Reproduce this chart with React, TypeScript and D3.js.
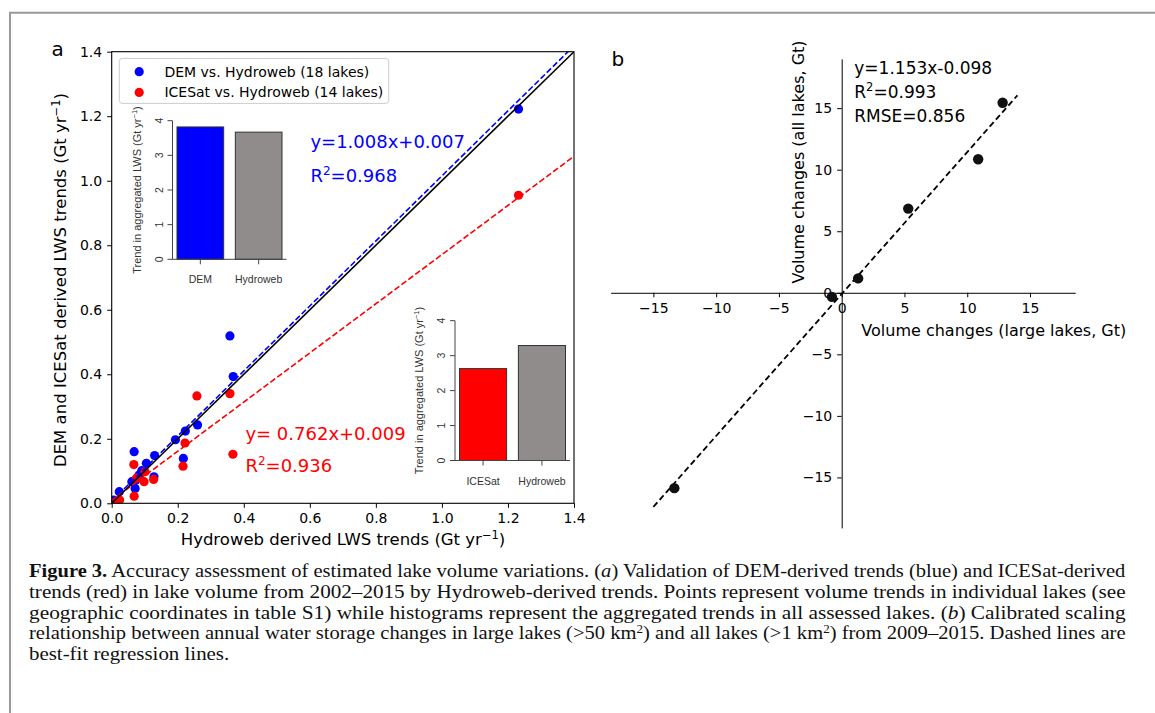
import { useEffect, useRef } from 'react';
import * as d3 from 'd3';

// panel a: trends of single lakes (Gt/yr), Hydroweb on the x axis
const demHydroweb = [1.232, 0.358, 0.368, 0.26, 0.223, 0.193, 0.217, 0.068, 0.13, 0.105, 0.128, 0.091, 0.061, 0.073, 0.071, 0.023, 0.083, 0.006];
const demTrend = [1.222, 0.519, 0.393, 0.243, 0.224, 0.197, 0.139, 0.16, 0.148, 0.124, 0.082, 0.101, 0.067, 0.072, 0.046, 0.036, 0.088, 0.01];
const iceHydroweb = [1.232, 0.258, 0.358, 0.367, 0.222, 0.216, 0.067, 0.068, 0.101, 0.127, 0.098, 0.075, 0.024, 0.012];
const iceTrend = [0.955, 0.333, 0.34, 0.152, 0.187, 0.115, 0.12, 0.022, 0.098, 0.074, 0.067, 0.078, 0.01, 0.004];
const fitDem = [1.008, 0.007];
const fitIce = [0.762, 0.009];
const ticksA = [0, 0.2, 0.4, 0.6, 0.8, 1.0, 1.2, 1.4];

// inset histograms (aggregated trends)
const topCats = ['DEM', 'Hydroweb'];
const topVals = [3.82, 3.67];
const bottomCats = ['ICESat', 'Hydroweb'];
const bottomVals = [2.63, 3.29];

// panel b: volume changes (Gt)
const volLarge = [12.82, 10.87, 5.3, 1.31, -0.78, -13.33];
const volAll = [15.44, 10.85, 6.84, 1.17, -0.33, -15.87];
const fitB = [1.153, -0.098];
const fitRangeB = [-15, 14];
const ticksB = [-15, -10, -5, 0, 5, 10, 15];

const FONT = '"DejaVu Sans", sans-serif';
const RFONT = '"Liberation Sans", Arial, sans-serif';
const SERIF = '"Liberation Serif", "Times New Roman", serif';
const BLUE = '#0000ff';
const RED = '#ff0000';
const GREY = '#918c8c';
const CAP_X = 29;
const CAP_W = 1097;

const xA = d3.scaleLinear().domain([0, 1.4]).range([111.7, 574]);
const yA = d3.scaleLinear().domain([0, 1.4]).range([503.3, 51.7]);
const xB = d3.scaleLinear().domain([-18.4, 18.6]).range([610.7, 1075.2]);
const yB = d3.scaleLinear().domain([-19.1, 19.0]).range([527.9, 58.9]);

function BarInset({ cats, vals, colors, x0, x1, y0, y1 }) {
  const x = d3.scaleBand().domain(cats).range([x0, x1]).paddingInner(0.2).paddingOuter(0);
  const y = d3.scaleLinear().domain([0, 4]).range([y0, y1]);
  const ax = x0 - 4.5;
  return (
    <g>
      {cats.map((c, i) => (
        <rect key={c} x={x(c)} y={y(vals[i])} width={x.bandwidth()} height={y(0) - y(vals[i])}
          fill={colors[i]} stroke="#333" strokeWidth={1} />
      ))}
      <line x1={ax} x2={ax} y1={y(0)} y2={y(4)} stroke="#444" />
      <line x1={ax} x2={x1 + 4.5} y1={y(0)} y2={y(0)} stroke="#444" />
      {y.ticks(4).map((t) => (
        <g key={t}>
          <line x1={ax - 5} x2={ax} y1={y(t)} y2={y(t)} stroke="#444" />
          <text transform={`translate(${ax - 10},${y(t)}) rotate(-90)`} textAnchor="middle"
            fontFamily={RFONT} fontSize={10.5} fill="#333">{t}</text>
        </g>
      ))}
      {cats.map((c) => {
        const cx = x(c) + x.bandwidth() / 2;
        return (
          <g key={c}>
            <line x1={cx} x2={cx} y1={y(0)} y2={y(0) + 5} stroke="#444" />
            <text x={cx} y={y(0) + 24} textAnchor="middle" fontFamily={RFONT} fontSize={10.5} fill="#333">{c}</text>
          </g>
        );
      })}
      <text transform={`translate(${ax - 32},${(y(0) + y(4)) / 2}) rotate(-90)`} textAnchor="middle"
        fontFamily={RFONT} fontSize={11} fill="#333">
        Trend in aggregated LWS (Gt yr<tspan dy={-4} fontSize={7.5}>−1</tspan><tspan dy={4}>)</tspan>
      </text>
    </g>
  );
}

const captionLines = [
  [['b', 'Figure 3.'], ['', ' Accuracy assessment of estimated lake volume variations. ('], ['i', 'a'], ['', ') Validation of DEM-derived trends (blue) and ICESat-derived']],
  [['', 'trends (red) in lake volume from 2002–2015 by Hydroweb-derived trends. Points represent volume trends in individual lakes (see']],
  [['', 'geographic coordinates in table S1) while histograms represent the aggregated trends in all assessed lakes. ('], ['i', 'b'], ['', ') Calibrated scaling']],
  [['', 'relationship between annual water storage changes in large lakes (>50 km'], ['s', '2'], ['', ') and all lakes (>1 km'], ['s', '2'], ['', ') from 2009–2015. Dashed lines are']],
  [['', 'best-fit regression lines.']],
];

export default function App() {
  const axAx = useRef(null);
  const axAy = useRef(null);
  const axBx = useRef(null);
  const axBy = useRef(null);
  const capRef = useRef(null);

  useEffect(() => {
    const style = (g) => {
      g.attr('font-family', null).attr('font-size', null);
      g.selectAll('text').attr('font-family', FONT).attr('font-size', 14).attr('fill', '#000');
      g.selectAll('line').attr('stroke', '#000');
      g.select('.domain').attr('stroke', '#000');
    };
    const fmt = d3.format('.1f');
    const gx = d3.select(axAx.current)
      .call(d3.axisBottom(xA).tickValues(ticksA).tickFormat(fmt).tickSize(4.5).tickPadding(5).tickSizeOuter(0));
    gx.select('.domain').remove();
    style(gx);
    const gy = d3.select(axAy.current)
      .call(d3.axisLeft(yA).tickValues(ticksA).tickFormat(fmt).tickSize(4.5).tickPadding(5).tickSizeOuter(0));
    gy.select('.domain').remove();
    style(gy);

    const bx = d3.select(axBx.current)
      .call(d3.axisBottom(xB).tickValues(ticksB).tickFormat(d3.format('d')).tickSize(4.5).tickPadding(6).tickSizeOuter(0));
    style(bx);
    const by = d3.select(axBy.current)
      .call(d3.axisLeft(yB).tickValues(ticksB).tickFormat(d3.format('d')).tickSize(4.5).tickPadding(5).tickSizeOuter(0));
    style(by);

    // justify the caption lines by a horizontal scale of each line
    const lines = d3.select(capRef.current).selectAll('text').nodes();
    const factors = [];
    lines.forEach((node, i) => {
      const y = +node.getAttribute('data-y');
      let sx;
      if (i < lines.length - 1) {
        sx = CAP_W / node.getComputedTextLength();
        factors.push(sx);
      } else {
        sx = d3.mean(factors);
      }
      node.setAttribute('transform', `translate(${CAP_X},${y}) scale(${sx},1)`);
    });
  }, []);

  const lineA = d3.line().x((d) => xA(d[0])).y((d) => yA(d[1]));
  const fitLine = (f) => lineA([0, 1.4].map((v) => [v, f[0] * v + f[1]]));
  const lineB = d3.line().x((d) => xB(d[0])).y((d) => yB(d[1]));

  return (
    <svg width={1155} height={713} style={{ position: 'absolute', left: 0, top: 0, background: '#fff', display: 'block' }}>
      <defs>
        <clipPath id="clipA">
          <rect x={xA(0)} y={yA(1.4)} width={xA(1.4) - xA(0)} height={yA(0) - yA(1.4)} />
        </clipPath>
      </defs>
      {/* frame */}
      <path d="M10,713 V12.7 H1155" fill="none" stroke="#999" strokeWidth={2} />

      {/* ---------- panel a ---------- */}
      <text x={51.5} y={56} fontFamily={FONT} fontSize={20}>a</text>
      <g clipPath="url(#clipA)">
        {demHydroweb.map((v, i) => (
          <circle key={'d' + i} cx={xA(v)} cy={yA(demTrend[i])} r={4.6} fill={BLUE} />
        ))}
        {iceHydroweb.map((v, i) => (
          <circle key={'c' + i} cx={xA(v)} cy={yA(iceTrend[i])} r={4.6} fill={RED} />
        ))}
        <path d={fitLine(fitDem)} fill="none" stroke={BLUE} strokeWidth={1.6} strokeDasharray="6 2.6" />
        <path d={fitLine(fitIce)} fill="none" stroke={RED} strokeWidth={1.6} strokeDasharray="6 2.6" />
        <path d={lineA([[0, 0], [1.4, 1.4]])} fill="none" stroke="#000" strokeWidth={1.6} />
      </g>
      <rect x={xA(0)} y={yA(1.4)} width={xA(1.4) - xA(0)} height={yA(0) - yA(1.4)} fill="none" stroke="#000" strokeWidth={1.1} />
      <g ref={axAx} transform={`translate(0,${yA(0)})`} />
      <g ref={axAy} transform={`translate(${xA(0)},0)`} />

      <text x={343} y={545} textAnchor="middle" fontFamily={FONT} fontSize={16.5}>
        Hydroweb derived LWS trends (Gt yr<tspan dy={-6} fontSize={11.5}>−1</tspan><tspan dy={6}>)</tspan>
      </text>
      <text transform="translate(66,280) rotate(-90)" textAnchor="middle" fontFamily={FONT} fontSize={16.5}>
        DEM and ICESat derived LWS trends (Gt yr<tspan dy={-6} fontSize={11.5}>−1</tspan><tspan dy={6}>)</tspan>
      </text>

      {/* legend */}
      <rect x={119.3} y={58.4} width={269.4} height={45} rx={3} fill="#fff" fillOpacity={0.8} stroke="#ccc" />
      <circle cx={139.2} cy={71.7} r={4.6} fill={BLUE} />
      <circle cx={139.2} cy={92.4} r={4.6} fill={RED} />
      <text x={164.4} y={76.7} fontFamily={FONT} fontSize={14}>DEM vs. Hydroweb (18 lakes)</text>
      <text x={164.4} y={97.4} fontFamily={FONT} fontSize={14}>ICESat vs. Hydroweb (14 lakes)</text>

      {/* regression annotations */}
      <g fontFamily={FONT} fontSize={18}>
        <text x={310.4} y={148} fill={BLUE}>y=1.008x+0.007</text>
        <text x={310.4} y={181.7} fill={BLUE}>R<tspan dy={-7} fontSize={12}>2</tspan><tspan dy={7}>=0.968</tspan></text>
        <text x={245.4} y={440} fill={RED}>y= 0.762x+0.009</text>
        <text x={245.4} y={471.7} fill={RED}>R<tspan dy={-7} fontSize={12}>2</tspan><tspan dy={7}>=0.936</tspan></text>
      </g>

      <BarInset cats={topCats} vals={topVals} colors={[BLUE, GREY]} x0={177} x1={282} y0={259.3} y1={120.7} />
      <BarInset cats={bottomCats} vals={bottomVals} colors={[RED, GREY]} x0={459.5} x1={565.5} y0={460.5} y1={320.7} />

      {/* ---------- panel b ---------- */}
      <text x={611.5} y={66} fontFamily={FONT} fontSize={20}>b</text>
      <g ref={axBx} transform={`translate(0,${yB(0)})`} />
      <g ref={axBy} transform={`translate(${xB(0)},0)`} />
      <path d={lineB(fitRangeB.map((v) => [v, fitB[0] * v + fitB[1]]))} fill="none" stroke="#000" strokeWidth={1.8} strokeDasharray="6 3.4" />
      {volLarge.map((v, i) => (
        <circle key={'b' + i} cx={xB(v)} cy={yB(volAll[i])} r={5.2} fill="#111" />
      ))}
      <g fontFamily={FONT} fontSize={17}>
        <text x={854.3} y={73.5}>y=1.153x-0.098</text>
        <text x={854.3} y={97.5}>R<tspan dy={-7} fontSize={11.5}>2</tspan><tspan dy={7}>=0.993</tspan></text>
        <text x={854.3} y={122}>RMSE=0.856</text>
      </g>
      <text x={861.3} y={336} fontFamily={FONT} fontSize={16}>Volume changes (large lakes, Gt)</text>
      <text transform="translate(804,162) rotate(-90)" textAnchor="middle" fontFamily={FONT} fontSize={16}>
        Volume changes (all lakes, Gt)
      </text>

      {/* ---------- caption ---------- */}
      <g ref={capRef}>
        {captionLines.map((parts, li) => (
          <text key={li} data-y={577 + li * 20.8} transform={`translate(${CAP_X},${577 + li * 20.8})`}
            fontFamily={SERIF} fontSize={19} fill="#111">
            {parts.map(([k, s], j) => {
              if (k === 'b') return <tspan key={j} fontWeight="bold">{s}</tspan>;
              if (k === 'i') return <tspan key={j} fontStyle="italic">{s}</tspan>;
              if (k === 's') return <tspan key={j} dy={-6} fontSize={12}>{s}</tspan>;
              const prevSup = j > 0 && parts[j - 1][0] === 's';
              return <tspan key={j} dy={prevSup ? 6 : undefined}>{s}</tspan>;
            })}
          </text>
        ))}
      </g>
    </svg>
  );
}
